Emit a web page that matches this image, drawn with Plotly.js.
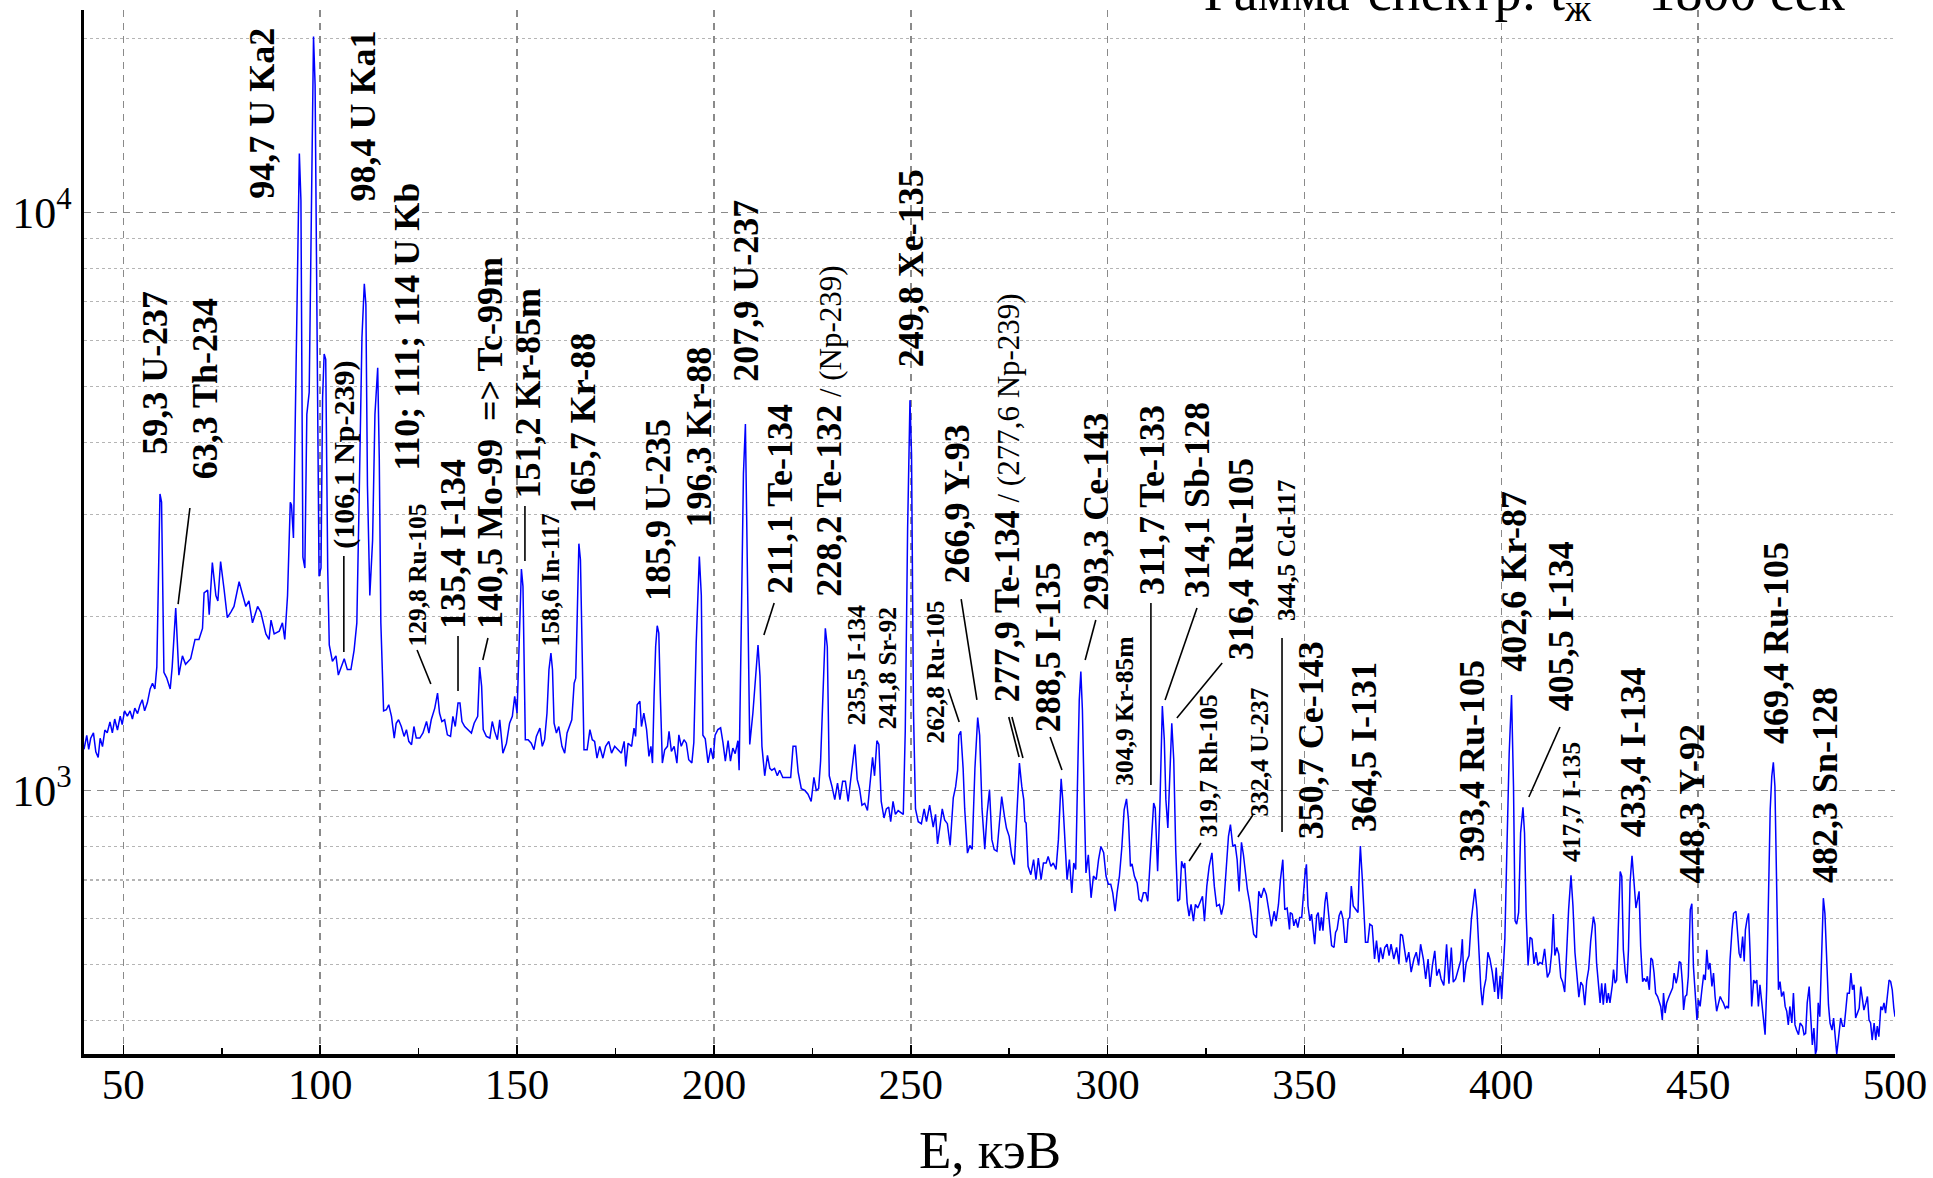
<!DOCTYPE html>
<html>
<head>
<meta charset="utf-8">
<script src="https://cdn.plot.ly/plotly-3.0.1.min.js"></script>
<style>html,body{margin:0;padding:0;background:#fff;}#chart{width:1933px;height:1178px;}</style>
</head>
<body>
<div id="chart"></div>
<script>
// ---- Spectrum data (energy, keV / counts) ----
const energyA = [40.0,40.7,41.2,41.7,42.4,43.0,43.6,44.1,44.7,45.3,45.9,46.6,47.2,47.8,48.5,49.2,49.7,50.3,51.0,51.7,52.3,52.9,53.6,54.2,54.8,55.4,56.1,56.8,57.4,58.0,58.5,59.0,59.3,59.7,60.3,61.0,61.9,62.4,63.3,64.1,65.0,65.8,67.1,68.2,69.2,70.1,70.5,71.4,71.8,72.6,73.5,74.0,74.7,75.6,76.4,77.3,78.1,79.4,80.3,81.1,81.9,82.8,84.1,84.9,86.2,87.0,87.5,88.3,89.6,90.4,91.0,91.7,92.4,92.7,93.2,93.9,94.7,95.1,95.6,96.1,96.6,97.2,97.9,98.3,98.7,99.3,99.7,100.2,100.6,101.0,101.4,101.9,102.3,103.1,104.0,104.6,105.3,106.1,106.9,107.8,108.6,109.3,109.9,110.6,111.2,111.6,112.0,112.6,113.3,113.9,114.6,115.0,115.4,116.1];
const countsA = [1178,1245,1178,1231,1258,1166,1140,1231,1191,1272,1258,1314,1258,1329,1272,1344,1300,1373,1344,1373,1329,1388,1358,1404,1435,1373,1419,1498,1532,1498,1636,2425,3257,3152,1600,1566,1498,1636,2067,1583,1709,1653,1690,1825,1825,1906,2197,2222,2013,2478,2174,2127,2489,2222,1991,2035,2081,2296,2174,2081,2127,1949,2081,2035,1865,1825,1970,1865,1886,1949,1825,2174,3152,3118,2734,5566,12635,10493,2533,2425,4472,4882,13945,20135,16610,4672,2346,2425,4775,5689,5566,2425,1785,1672,1709,1583,1636,1690,1618,1618,1747,1949,3222,6074,7523,6926,3365,2174,2705,4472,5385,3754,1949,1373];

const energyB = [116.8,117.4,118.1,118.8,119.3,119.9,120.6,121.3,121.9,122.5,123.2,123.8,124.4,125.3,126.1,127.0,127.6,128.2,129.1,129.8,130.3,130.9,131.6,132.3,133.1,133.7,134.3,135.0,135.5,136.0,136.7,137.6,138.4,139.1,140.0,140.5,141.0,141.4,142.2,143.1,143.7,144.3,145.0,145.6,146.4,147.3,148.1,148.8,149.4,150.0,150.5,151.1,151.5,152.1,152.8,153.6,154.3,154.9,155.8,156.4,157.0,157.6,158.1,158.6,159.0,159.4,160.0,160.6,161.4,162.1,162.7,163.4,163.9,164.5,164.9,165.3,165.7,166.1,166.5,167.0,167.8,168.5,169.1,169.7,170.3,171.0,171.8,172.5,173.3,174.0,174.8,175.7,176.5,177.2,177.6,178.2,179.1,179.7,180.1,180.5,180.9,181.2,181.6,182.2,182.9,183.5,184.0,184.4,184.8,185.2,185.6,186.0,186.4,186.9,187.5,188.2,188.6,189.2,189.9,190.6,191.1,191.7,192.4,193.0,193.6];
const countsB = [1379,1407,1343,1232,1307,1325,1290,1240,1274,1216,1200,1290,1232,1232,1257,1316,1257,1325,1388,1474,1361,1316,1325,1248,1240,1343,1290,1416,1416,1316,1290,1274,1257,1307,1343,1635,1514,1274,1240,1232,1316,1265,1224,1325,1160,1207,1307,1343,1454,1361,1774,2415,2254,1224,1224,1207,1176,1240,1282,1192,1224,1361,1617,1728,1617,1307,1257,1290,1192,1160,1257,1299,1325,1533,1564,2027,2672,2507,1728,1176,1176,1274,1224,1216,1137,1192,1137,1192,1216,1160,1192,1176,1160,1216,1100,1207,1192,1282,1240,1407,1416,1426,1290,1361,1274,1145,1192,1115,1454,1774,1927,1872,1454,1115,1176,1192,1265,1168,1192,1115,1248,1192,1224,1207,1130];

const energyC = [194.4,194.9,195.5,196.3,196.8,197.2,197.8,198.5,199.2,199.8,200.3,201.0,201.7,202.3,202.9,203.6,204.2,204.8,205.4,206.1,206.4,206.9,207.5,208.0,208.5,209.1,209.9,210.6,211.2,211.7,212.2,212.9,213.6,214.2,214.7,215.4,216.1,216.7,217.5,218.4,219.5,220.1,220.8,221.4,222.2,223.1,223.9,224.7,225.4,226.0,226.6,227.1,227.6,228.3,228.8,229.3,230.0,230.7,231.4,232.0,232.7,233.4,234.1,234.7,235.3,235.8,236.4,237.0,237.6,238.3,239.0,239.7,240.3,240.8,241.4,241.9,242.5,243.2,243.8,244.4,244.9,245.5,246.1,246.8,247.5,248.1,248.6,249.2,249.8,250.2,250.7,251.2,251.9,252.7,253.4,254.0,254.8,255.7,256.3,256.8,257.4,258.0,258.6,259.3,260.0,260.8,261.4,261.9,262.2,262.7,263.3,263.7,264.4,265.0,265.6,266.3,267.0,267.5,268.1,268.8];
const countsC = [1116,1210,1798,2538,2176,1246,1228,1116,1184,1133,1246,1274,1283,1210,1124,1219,1124,1184,1158,1219,1084,1824,3530,4303,2447,1201,1361,1553,1785,1576,1192,1060,1150,1092,1084,1092,1060,1084,1053,1053,1053,1192,1192,1076,1007,1000,985,957,1053,1000,1007,1124,1361,1907,1772,1060,1015,964,1030,964,1037,1037,957,1045,1124,1201,1045,1007,943,950,923,1030,1141,1060,1219,1201,957,896,929,936,883,957,909,923,916,909,1265,2833,4733,3798,1361,929,883,876,929,883,943,864,909,808,864,929,889,876,803,971,1015,1084,1246,1265,1092,929,779,803,791,1092,1337,1246,929,791];

const energyD = [269.4,270.0,270.6,271.2,271.9,272.5,273.1,273.8,274.3,275.0,275.6,276.3,277.0,277.6,278.2,278.7,279.0,279.3,279.8,280.5,281.2,281.8,282.4,283.1,283.7,284.4,284.9,285.6,286.2,286.9,287.5,287.8,288.2,288.6,289.2,289.7,290.3,290.9,291.4,291.9,292.4,292.8,293.2,293.6,294.1,294.5,295.1,295.8,296.4,297.1,297.7,298.3,299.0,299.6,300.2,300.8,301.3,301.9,302.4,303.0,303.6,304.2,304.8,305.3,305.8,306.2,306.8,307.5,308.0,308.6,309.1,309.7,310.2,310.8,311.3,311.7,312.1,312.7,313.3,313.9,314.4,314.8,315.3,315.8,316.3,316.8,317.3,317.8,318.3,318.8,319.3,319.6,320.2,320.7,321.2,321.8,322.3,322.9,323.5,324.1,324.6,325.2,325.8,326.5,327.1,327.7,328.4,328.9,329.5,330.1,330.7,331.2,331.8,332.4,332.9,333.4,334.0,334.5,335.0,335.5,336.1,336.7,337.1,337.8,338.4,339.0,339.7,340.3,340.9,341.6,342.3,342.8,343.4,343.9,344.5,345.0,345.6,346.2];
const countsD = [914,1003,822,790,785,867,976,902,861,833,774,744,914,1115,1016,964,884,878,739,715,759,701,764,701,749,749,769,739,749,730,822,914,1047,964,800,701,759,665,749,730,1071,1434,1605,1378,938,720,774,652,711,701,759,800,780,711,688,688,665,618,665,711,795,926,967,890,739,746,711,692,648,643,665,665,643,754,890,951,932,725,951,1400,1223,964,861,1030,1307,1130,790,643,648,754,734,749,639,606,635,594,635,626,643,656,594,683,739,780,683,631,635,610,635,739,833,873,800,806,759,669,813,774,720,674,639,598,564,556,669,652,678,661,622,582,618,594,635,701,759,622,626,575];

const energyE = [346.4,346.9,347.3,347.8,348.3,348.8,349.3,349.7,350.1,350.5,350.9,351.4,351.8,352.2,352.6,353.1,353.5,353.9,354.3,354.7,355.2,355.6,356.0,356.4,356.9,357.5,357.9,358.3,358.8,359.3,359.8,360.3,360.7,361.1,361.5,361.9,362.4,363.0,363.6,363.9,364.2,364.7,365.1,365.5,366.1,366.6,367.2,367.8,368.3,368.9,369.3,369.9,370.4,371.0,371.5,372.0,372.7,373.4,374.0,374.4,374.9,375.4,375.9,376.5,377.1,377.8,378.4,379.0,379.5,380.2,380.8,381.4,381.9,382.5,383.1,383.6,384.2,384.7,385.4,386.1,386.7,387.3,387.8,388.4,389.0,389.7,390.1,390.5,391.1,391.8,392.4,392.9,393.3,393.8,394.3,394.8,395.2,395.6,396.1,396.6,397.1,397.7,398.3,398.7,399.2,399.7,400.1,400.5,400.9,401.4,402.0,402.6,403.1,403.5,403.9,404.4,404.9,405.5,405.9,406.3,406.8,407.3,407.8,408.3,408.8,409.3,409.8,410.4,411.0,411.7,412.3,412.8,413.2,413.6,414.1,414.6,415.1,415.6,416.1,416.6,417.1,417.7,418.2,418.7,419.2,419.7,420.2,420.7,421.2,421.7,422.2];
const countsE = [615,611,583,599,579,603,603,657,711,745,631,595,611,575,542,607,615,572,603,572,640,667,623,575,539,535,568,575,607,619,599,546,546,599,603,683,631,623,615,720,801,702,607,546,546,587,583,511,550,504,535,511,535,542,518,542,511,535,501,564,561,525,504,525,485,511,525,498,542,511,472,511,457,498,528,478,491,472,460,542,463,535,466,472,491,508,553,466,504,518,599,640,676,623,532,454,425,454,472,525,511,485,448,494,436,478,436,504,553,780,1160,1462,1016,595,587,615,844,935,844,615,498,557,553,501,525,498,504,501,532,475,485,525,611,518,535,521,475,466,448,525,623,713,631,525,472,439,466,460,425,469,491];

const energyF = [422.7,423.4,423.8,424.2,424.6,425.1,425.5,425.9,426.4,426.8,427.2,427.6,428.2,428.5,428.9,429.3,429.7,430.2,430.6,431.0,431.5,431.9,432.3,432.7,433.2,433.6,434.2,434.6,435.0,435.4,435.9,436.3,436.8,437.1,437.6,438.0,438.4,438.8,439.2,439.7,440.2,440.5,440.9,441.2,441.6,442.0,442.6,443.1,443.5,443.9,444.4,444.8,445.2,445.6,446.0,446.3,446.7,447.1,447.5,448.0,448.4,448.8,449.2,449.7,450.1,450.5,450.9,451.4,451.8,452.2,452.6,453.0,453.5,453.9,454.3,454.7,455.2,455.6,456.0,456.4,456.9,457.3,457.7,458.1,458.6,459.0,459.6,460.0,460.4,460.8,461.3,461.7,462.0,462.4,462.8,463.2,463.6,464.1,464.5,464.9,465.3,465.7,466.2,466.6,467.0,467.4,467.9,468.3,468.7,469.1,469.5,470.0,470.4,470.8,471.2,471.7,472.1,472.5,472.9,473.3,473.8,474.2,474.6,475.0,475.5,475.9,476.5,476.9,477.3,477.7,478.2,478.6,479.0,479.4,479.8,480.1,480.5,480.9,481.3,481.8,482.2,482.7,483.1,483.5,484.0,484.4,484.8,485.2,485.6,486.2,486.7,487.1,487.5,487.9,488.4,488.8,489.2,489.6,490.0,490.5,490.9,491.3,491.7,492.1,492.6,493.0,493.4,493.8,494.2,494.7,495.1,495.5,495.9,496.4,496.8,497.2,497.6,498.1,498.5,498.9,499.3,499.7,500.0];
const countsF = [548,605,586,503,464,429,464,426,464,429,446,429,461,490,464,470,574,724,710,530,483,464,530,691,771,710,626,647,669,537,467,473,467,477,452,513,509,483,446,440,429,423,401,446,412,429,440,449,455,483,464,477,506,503,464,417,440,443,477,622,637,496,446,401,434,423,449,480,470,530,490,503,458,483,440,415,429,440,434,429,420,423,420,509,574,613,618,559,523,513,559,506,574,597,613,523,423,470,464,470,423,461,429,396,378,452,647,926,1057,1118,1016,638,452,467,440,449,423,415,393,423,396,446,393,385,378,396,391,378,380,429,458,406,363,388,350,356,429,406,516,651,613,490,426,396,385,404,375,350,370,404,391,391,417,446,446,483,452,461,404,412,420,458,437,417,429,440,401,396,370,396,370,391,375,423,417,429,412,452,470,467,452,420,406];

// ---- Peak identifications (text) ----
const peakLabels = [
  '59,3 U-237','63,3 Th-234','94,7 U Ka2','98,4 U Ka1','110; 111; 114 U Kb',
  '135,4 I-134','140,5 Mo-99\u00a0\u00a0=> Tc-99m','151,2 Kr-85m','165,7 Kr-88','185,9 U-235',
  '196,3 Kr-88','207,9 U-237','211,1 Te-134','228,2 Te-132|/ (Np-239)','249,8 Xe-135',
  '266,9 Y-93','277,9 Te-134|/ (277,6 Np-239)','288,5 I-135','293,3 Ce-143','311,7 Te-133',
  '314,1 Sb-128','316,4 Ru-105','350,7 Ce-143','364,5 I-131','393,4 Ru-105',
  '402,6 Kr-87','405,5 I-134','433,4 I-134','448,3 Y-92','469,4 Ru-105','482,3 Sn-128',
  '129,8 Ru-105','158,6 In-117','235,5 I-134','241,8 Sr-92','262,8 Ru-105',
  '304,9 Kr-85m','319,7 Rh-105','332,4 U-237','344,5 Cd-117','417,7 I-135',
  '(106,1 Np-239)'
];
const titleText = 'Гамма-спектр: t<sub>ж</sub> = 1800 сек';
const xTitle = 'E, кэВ';
const yTickVals = [1000, 10000];
const yTickText = ['10<sup>3</sup>', '10<sup>4</sup>'];

// ---- Layout of labels: [x (keV), y (paper, bottom of text), style] ----
const labelPlace = [
  [58.0,0.5728,'L'],[70.7,0.5498,'L'],[85.0,0.818,'L'],[111.1,0.8161,'L'],[122.0,0.5575,'L'],
  [133.7,0.4061,'L'],[143.1,0.4061,'L'],[152.8,0.5307,'L'],[166.7,0.5172,'L'],[185.8,0.433,'L'],
  [196.2,0.5038,'L'],[208.1,0.6427,'L'],[216.8,0.4397,'L'],[229.2,0.4368,'M'],[250.1,0.6571,'L'],
  [261.5,0.4492,'L'],[274.4,0.3362,'M'],[284.9,0.3075,'L'],[297.0,0.4234,'L'],[311.3,0.4387,'L'],
  [322.7,0.4358,'L'],[333.9,0.3764,'L'],[351.7,0.205,'L'],[365.1,0.2117,'L'],[392.6,0.183,'L'],
  [403.0,0.3649,'L'],[415.2,0.3276,'L'],[433.5,0.2069,'L'],[448.4,0.1628,'L'],[469.8,0.296,'L'],[482.2,0.1628,'L'],
  [124.6,0.3889,'S'],[158.6,0.3898,'S'],[236.3,0.3142,'S'],[244.0,0.3103,'S'],[256.4,0.2969,'S'],
  [304.2,0.2557,'S'],[325.7,0.2069,'S'],[338.7,0.227,'S'],[345.6,0.4138,'S'],[418.0,0.183,'S'],
  [106.0,0.4828,'N']
];
// leader lines [x0,y0,x1,y1] (keV, paper)
const leaders = [
  [66.9,0.523,63.9,0.431],[106.0,0.477,106.0,0.385],[124.6,0.387,128.1,0.3544],[135.0,0.4004,135.0,0.3477],
  [142.6,0.3985,141.3,0.3774],[152.0,0.5249,152.0,0.4722],[215.3,0.432,212.7,0.4013],[259.5,0.3496,262.3,0.318],
  [262.8,0.4358,266.8,0.3391],[274.9,0.3228,277.5,0.2845],[275.7,0.3228,278.5,0.2835],[285.4,0.3036,288.4,0.272],
  [297.0,0.4157,294.3,0.3774],[311.0,0.432,311.0,0.2577],[322.7,0.4272,314.6,0.3391],[329.1,0.3745,317.6,0.3218],
  [323.7,0.2021,320.7,0.1849],[336.9,0.2289,333.1,0.2079],[344.3,0.3985,344.3,0.2126],[414.9,0.3132,407.0,0.2462]
];

const FONT = 'Liberation Serif, Times New Roman, serif';
const energy = [].concat(energyA, energyB, energyC, energyD, energyE, energyF);
const counts = [].concat(countsA, countsB, countsC, countsD, countsE, countsF);

const annotations = peakLabels.map((t, i) => {
  const [x, y, st] = labelPlace[i];
  let text = t, size = 36, weight = 'bold';
  if (st === 'S') { size = 25.5; }
  if (st === 'N') { size = 30; }
  if (st === 'M') {
    const parts = t.split('|');
    text = '<b>' + parts[0] + '</b><span style="font-size:31px"> ' + parts[1] + '</span>';
    weight = 'normal';
  }
  return {
    text: text, x: x, y: y, xref: 'x', yref: 'paper', textangle: -90,
    xanchor: 'center', yanchor: 'bottom', showarrow: false, borderpad: 0,
    font: {family: FONT, size: size, color: '#000', weight: weight}
  };
});
annotations.push({
  text: titleText, xref: 'paper', yref: 'paper', x: 0.6179, y: 0.9805,
  xanchor: 'left', yanchor: 'bottom', showarrow: false, borderpad: 0,
  font: {family: FONT, size: 54, color: '#000'}
});
annotations.push({
  text: xTitle, xref: 'paper', yref: 'paper', x: 0.5, y: -0.0915,
  xanchor: 'center', yanchor: 'middle', showarrow: false, borderpad: 0,
  font: {family: FONT, size: 53, color: '#000'}
});

const shapes = leaders.map(l => ({
  type: 'line', xref: 'x', yref: 'paper', x0: l[0], y0: l[1], x1: l[2], y1: l[3],
  line: {color: '#000', width: 1.6}
}));

const minorY = [];
[100, 1000, 10000].forEach(d => { for (let k = 2; k <= 9; k++) minorY.push(k * d); });

const trace = {
  x: energy, y: counts, type: 'scatter', mode: 'lines',
  line: {color: '#0000ff', width: 1.5}, hoverinfo: 'skip'
};

const layout = {
  width: 1933, height: 1178,
  margin: {l: 84, r: 38, t: 10, b: 124},
  paper_bgcolor: '#fff', plot_bgcolor: '#fff',
  showlegend: false,
  font: {family: FONT, color: '#000'},
  xaxis: {
    range: [40, 500], tickmode: 'linear', tick0: 0, dtick: 50,
    showline: true, linecolor: '#000', linewidth: 4, mirror: false,
    ticks: 'inside', ticklen: 9, tickwidth: 1.5, tickcolor: '#000',
    ticklabelstandoff: -11,
    showgrid: true, gridcolor: '#8a8a8a', gridwidth: 1.5, griddash: '7px,6px',
    zeroline: false, tickfont: {family: FONT, size: 43, color: '#000'},
    minor: {dtick: 25, tick0: 0, ticks: 'inside', ticklen: 6, tickwidth: 1.5, tickcolor: '#000', showgrid: false}
  },
  yaxis: {
    type: 'log', range: [Math.log10(350), 4.35],
    tickmode: 'array', tickvals: yTickVals, ticktext: yTickText,
    showline: true, linecolor: '#000', linewidth: 3.5, mirror: false,
    ticks: '', showgrid: true, gridcolor: '#8a8a8a', gridwidth: 1.5, griddash: '7px,6px',
    zeroline: false, tickfont: {family: FONT, size: 44, color: '#000'},
    minor: {tickmode: 'array', tickvals: minorY, showgrid: true, gridcolor: '#b5b5b5', gridwidth: 1.2, griddash: 'dot', ticks: ''}
  },
  annotations: annotations,
  shapes: shapes
};

Plotly.newPlot('chart', [trace], layout, {staticPlot: true, displayModeBar: false});
</script>
</body>
</html>
